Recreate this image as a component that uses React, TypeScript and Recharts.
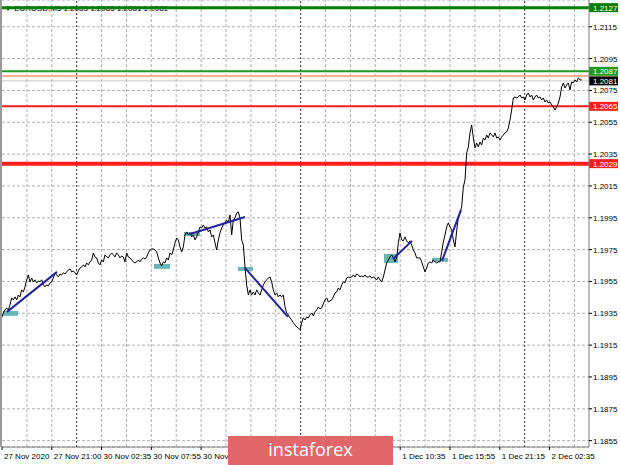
import React from "react";
import {
  LineChart,
  Line,
  XAxis,
  YAxis,
  CartesianGrid,
  ReferenceLine,
  ReferenceArea,
} from "recharts";

// EURUSD M5 close, 27 Nov 2020 -> 2 Dec 2020 (one sample per slot)
const closePrice = [
  1.19321, 1.19352, 1.19371, 1.19384, 1.19371, 1.19403, 1.19447, 1.19434, 1.19453, 1.19434,
  1.19465, 1.19453, 1.19497, 1.19484, 1.19516, 1.1956, 1.19591, 1.19547, 1.19572, 1.19547,
  1.1956, 1.19541, 1.19553, 1.19547, 1.1956, 1.19528, 1.19516, 1.19528, 1.19522, 1.19541,
  1.19547, 1.19572, 1.19604, 1.19591, 1.19578, 1.19597, 1.19591, 1.19604, 1.19597, 1.1961,
  1.19622, 1.19629, 1.1961, 1.19616, 1.19604, 1.19591, 1.19616, 1.19635, 1.19641, 1.19654,
  1.19641, 1.19666, 1.19654, 1.19673, 1.19685, 1.19729, 1.19704, 1.19698, 1.19666, 1.19654,
  1.19685, 1.19673, 1.19717, 1.19704, 1.19698, 1.19717, 1.19729, 1.19717, 1.19704, 1.19729,
  1.19717, 1.19698, 1.1971, 1.19704, 1.19673, 1.19729, 1.19704, 1.19698, 1.19685, 1.19673,
  1.19666, 1.19673, 1.19685, 1.19673, 1.19691, 1.19698, 1.19691, 1.19704, 1.19729, 1.19748,
  1.19754, 1.19754, 1.19748, 1.19735, 1.19698, 1.19666, 1.19648, 1.19673, 1.19666, 1.19698,
  1.19685, 1.19729, 1.19717, 1.19748, 1.19792, 1.19823, 1.19811, 1.19767, 1.19735, 1.19767,
  1.19842, 1.19861, 1.19842, 1.19855, 1.1983, 1.19842, 1.19811, 1.1983, 1.19861, 1.19892,
  1.19886, 1.19905, 1.19886, 1.19892, 1.19861, 1.19874, 1.1983, 1.19842, 1.19792, 1.19748,
  1.19811, 1.19855, 1.19886, 1.19905, 1.19918, 1.19936, 1.19918, 1.19968, 1.19842, 1.19936,
  1.19949, 1.1998, 1.19987, 1.19949, 1.19811, 1.19779, 1.19641, 1.19528, 1.19465, 1.19497,
  1.19465, 1.19484, 1.19465, 1.19497, 1.19478, 1.19465, 1.19497, 1.19528, 1.19547, 1.1956,
  1.19572, 1.19578, 1.19547, 1.19497, 1.19465, 1.19478, 1.19453, 1.19465, 1.19453, 1.19465,
  1.1939, 1.19352, 1.1934, 1.19321, 1.19308, 1.1929, 1.19277, 1.19264, 1.19258, 1.19246,
  1.1929, 1.19321, 1.19308, 1.19327, 1.19321, 1.1934, 1.19352, 1.19334, 1.19359, 1.19371,
  1.1939, 1.19377, 1.19384, 1.19409, 1.19434, 1.19447, 1.19421, 1.19428, 1.19434, 1.19453,
  1.19478, 1.19484, 1.19509, 1.19497, 1.19528, 1.19547, 1.19541, 1.19572, 1.19578, 1.19572,
  1.19578, 1.19591, 1.19578, 1.19597, 1.19591, 1.19578, 1.19585, 1.19578, 1.19591, 1.19578,
  1.19578, 1.19585, 1.19572, 1.19578, 1.19572, 1.1956, 1.19578, 1.1956, 1.19547, 1.19578,
  1.19622, 1.19666, 1.19685, 1.19704, 1.19717, 1.19698, 1.19673, 1.19698, 1.19792, 1.19855,
  1.19811, 1.19805, 1.1983, 1.19805, 1.19792, 1.19805, 1.19779, 1.19748, 1.19729, 1.19698,
  1.19698, 1.19698, 1.19673, 1.19641, 1.1961, 1.19635, 1.19666, 1.19673, 1.19666, 1.19685,
  1.19673, 1.19666, 1.19673, 1.19673, 1.19735, 1.19798, 1.19842, 1.19892, 1.19918, 1.19892,
  1.19874, 1.19811, 1.19767, 1.19867, 1.19955, 1.1998, 1.20018, 1.20144, 1.20188, 1.20357,
  1.20395, 1.20483, 1.20533, 1.20451, 1.20389, 1.2042, 1.20395, 1.20426, 1.20407, 1.20451,
  1.20439, 1.2047, 1.20451, 1.20483, 1.2047, 1.20458, 1.20483, 1.20451, 1.20458, 1.20439,
  1.20458, 1.2047, 1.20483, 1.20489, 1.20514, 1.20564, 1.20627, 1.20703, 1.20709, 1.20703,
  1.20709, 1.20721, 1.20703, 1.20709, 1.2069, 1.20721, 1.20734, 1.20709, 1.20721, 1.2069,
  1.20709, 1.20721, 1.20703, 1.20709, 1.2069, 1.20703, 1.20677, 1.2069, 1.20671, 1.20677,
  1.20659, 1.20646, 1.20627, 1.20646, 1.20671, 1.20709, 1.20772, 1.20797, 1.20765, 1.20784,
  1.20797, 1.20753, 1.20803, 1.20797, 1.20816, 1.20803, 1.20828, 1.20816, 1.20816,
];

// time scale (M5 bars from the first visible bar); labels under the logo are not shown
const tickBars = [0, 64, 128, 192, 256, 512, 576, 640, 704];
const tickLabels = [
  "27 Nov 2020", "27 Nov 21:00", "30 Nov 02:35", "30 Nov 07:55", "30 Nov 13:15",
  "1 Dec 10:35", "1 Dec 15:55", "1 Dec 21:15", "2 Dec 02:35",
];
const gridBars = [
  32, 64, 128, 160, 192, 224, 256, 288, 320, 352, 416, 448, 480, 512, 544, 576, 608, 640, 704, 736,
];
const daySeparatorBars = [96, 384, 672];

const priceTicks = [
  1.2115, 1.2095, 1.2075, 1.2055, 1.2035, 1.2015, 1.1995, 1.1975, 1.1955, 1.1935, 1.1915, 1.1895,
  1.1875, 1.1855,
];

// horizontal levels
const levelPrices = [1.2127, 1.2087, 1.2065, 1.2029];
const askPrice = 1.2084;
const bidPrice = 1.2081;

// drawn objects
const boxSlots = [[1.8, 10.8], [92.4, 102], [110.4, 120], [142.8, 151.8], [230.4, 238.8], [259.2, 268.8]];
const boxPrices = [
  [1.19365, 1.19334], [1.1966, 1.19629], [1.19861, 1.19836], [1.19641, 1.19616],
  [1.19723, 1.19666], [1.19698, 1.19673],
];
const trendSlots = [[4.2, 34.2], [114, 147], [147, 172.8], [235.8, 247.2], [265.2, 276.6]];
const trendPrices = [
  [1.19359, 1.1961], [1.19848, 1.19955], [1.19635, 1.19327], [1.19691, 1.19805], [1.19679, 1.19999],
];

const levelStyles = [
  { color: "#007f00", width: 3 },
  { color: "#1e9b1e", width: 2 },
  { color: "#ff1e1e", width: 2 },
  { color: "#ff1e1e", width: 4 },
];

const W = 620;
const H = 465;
const PLOT_BOTTOM = 447;
const PLOT_RIGHT = 589;
const FONT = "'Liberation Sans', Arial, sans-serif";
const GRID = "#b0b0b0";

const barToSlot = (b: number) => 1.2 + (b * 7) / 15;
const tickSlots = tickBars.map(barToSlot);

const data = closePrice.map((p, i) => ({ slot: i + 1, price: p }));

function TimeTick(props: any) {
  const { x, payload } = props;
  const idx = tickSlots.findIndex((s) => Math.abs(s - payload.value) < 0.01);
  return (
    <g>
      <line x1={x} y1={PLOT_BOTTOM} x2={x} y2={PLOT_BOTTOM + 3} stroke="#000" />
      <text x={x + 2} y={PLOT_BOTTOM + 12} fontSize={8} fontFamily={FONT} fill="#000">
        {tickLabels[idx]}
      </text>
    </g>
  );
}

function PriceTick(props: any) {
  const { y, payload } = props;
  return (
    <g>
      <line x1={PLOT_RIGHT} y1={y} x2={PLOT_RIGHT + 3} y2={y} stroke="#000" />
      <text x={PLOT_RIGHT + 4} y={y + 3} fontSize={8} fontFamily={FONT} fill="#000">
        {payload.value.toFixed(4)}
      </text>
    </g>
  );
}

function PriceTag(props: any) {
  const { viewBox, text, fill } = props;
  const y = viewBox.y;
  return (
    <g>
      <rect x={PLOT_RIGHT} y={y - 4.5} width={29} height={9} fill={fill} />
      <text x={PLOT_RIGHT + 4} y={y + 3} fontSize={8} fontFamily={FONT} fill="#fff">
        {text}
      </text>
    </g>
  );
}

export default function App() {
  return (
    <div style={{ position: "absolute", left: 0, top: 0, width: W, height: H, background: "#fff", overflow: "hidden" }}>
      <div
        style={{
          position: "absolute",
          left: 4,
          top: 4,
          fontFamily: FONT,
          fontSize: 8,
          color: "#000",
          whiteSpace: "nowrap",
        }}
      >
        ▼ EURUSD,M5 1.2083 1.2085 1.2081 1.2081
      </div>
      <div style={{ position: "absolute", left: 0, top: 0, width: 2, height: PLOT_BOTTOM, background: "#9a9a9a" }} />
      <div style={{ position: "absolute", left: 0, top: 0 }}>
        <LineChart width={W} height={H} data={data} margin={{ top: 0, right: 0, bottom: 0, left: 2 }}>
          <CartesianGrid vertical={false} stroke={GRID} strokeDasharray="3 2" />
          <XAxis
            dataKey="slot"
            type="number"
            domain={[1.2, 353.4]}
            allowDataOverflow
            ticks={tickSlots}
            interval={0}
            tick={TimeTick}
            tickLine={false}
            axisLine={{ stroke: "#7a7a7a" }}
            height={18}
          />
          <YAxis
            orientation="right"
            type="number"
            domain={[1.1851, 1.21318]}
            allowDataOverflow
            ticks={priceTicks}
            interval={0}
            tick={PriceTick}
            tickLine={false}
            axisLine={{ stroke: "#7a7a7a" }}
            width={31}
          />
          {gridBars.map((b) => (
            <ReferenceLine key={"g" + b} x={barToSlot(b)} stroke={GRID} strokeDasharray="3 2" />
          ))}
          {daySeparatorBars.map((b) => (
            <ReferenceLine key={"d" + b} x={barToSlot(b)} stroke="#303030" strokeDasharray="2 2" />
          ))}
          <ReferenceLine
            y={bidPrice}
            stroke="#c8c8c8"
            strokeWidth={1}
            label={<PriceTag text={bidPrice.toFixed(4)} fill="#000" />}
          />
          <ReferenceLine y={askPrice} stroke="#ffb08f" strokeWidth={2} />
          {levelPrices.map((p, i) => (
            <ReferenceLine
              key={"l" + p}
              y={p}
              stroke={levelStyles[i].color}
              strokeWidth={levelStyles[i].width}
              label={<PriceTag text={p.toFixed(4)} fill={levelStyles[i].color} />}
            />
          ))}
          <Line
            type="linear"
            dataKey="price"
            stroke="#000"
            strokeWidth={1}
            dot={false}
            isAnimationActive={false}
          />
          {boxSlots.map((s, i) => (
            <ReferenceArea
              key={"b" + i}
              x1={s[0]}
              x2={s[1]}
              y1={boxPrices[i][0]}
              y2={boxPrices[i][1]}
              fill="#5aadad"
              fillOpacity={0.9}
              stroke="none"
            />
          ))}
          {trendSlots.map((s, i) => (
            <ReferenceLine
              key={"t" + i}
              segment={[
                { x: s[0], y: trendPrices[i][0] },
                { x: s[1], y: trendPrices[i][1] },
              ]}
              stroke="#23239a"
              strokeWidth={2}
            />
          ))}
        </LineChart>
      </div>
      <div
        style={{
          position: "absolute",
          left: 228,
          top: 436,
          width: 165,
          height: 29,
          background: "#e3666b",
          color: "#fff",
          fontFamily: "'Open Sans', sans-serif",
          fontSize: 18,
          lineHeight: "27px",
          textAlign: "center",
        }}
      >
        instaforex
      </div>
    </div>
  );
}
